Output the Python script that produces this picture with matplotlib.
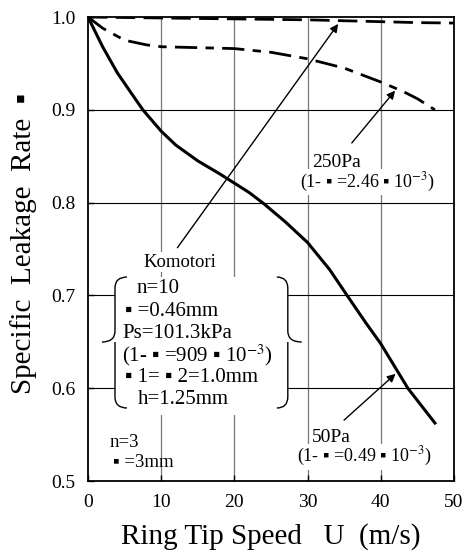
import matplotlib
matplotlib.use("Agg")
import matplotlib.pyplot as plt
from matplotlib.path import Path
from matplotlib.patches import PathPatch, Rectangle

plt.rcParams['font.family'] = ['Liberation Serif', 'DejaVu Sans']
plt.rcParams['mathtext.fontset'] = 'stix'

# readings
u_komo = [0, 5, 10, 15, 20, 25, 30, 35, 40, 45, 50]
r_komo = [1.0, 0.9995, 0.999, 0.9985, 0.998, 0.9975, 0.997, 0.996, 0.995, 0.994, 0.9935]

u_250 = [0, 2, 5, 8, 10, 15, 20, 25, 30, 35, 40, 43, 45, 47.4]
r_250 = [1.0, 0.988, 0.975, 0.970, 0.968, 0.967, 0.966, 0.962, 0.955, 0.945, 0.930, 0.920, 0.912, 0.900]

u_50 = [0, 2, 4, 6, 7.5, 10, 12, 15, 18, 20, 22, 24, 27, 30, 33, 35.4, 38, 40, 43.7, 47.4]
r_50 = [1.0, 0.968, 0.940, 0.917, 0.900, 0.877, 0.862, 0.845, 0.831, 0.821, 0.811, 0.799,
        0.779, 0.757, 0.728, 0.700, 0.670, 0.648, 0.600, 0.5625]

xticks = [0, 10, 20, 30, 40, 50]
yticks = [0.5, 0.6, 0.7, 0.8, 0.9, 1.0]
ytick_labels = ["0.5", "0.6", "0.7", "0.8", "0.9", "1.0"]

fig = plt.figure(figsize=(4.68, 5.55), dpi=100)
ax = fig.add_axes([0.188, 0.1333, 0.782, 0.836])
ax.set_xlim(0, 50)
ax.set_ylim(0.5, 1.0)

# grid
for x in xticks[1:-1]:
    ax.axvline(x, color='#777777', lw=0.9, zorder=1)
for y in yticks[1:-1]:
    ax.axhline(y, color='black', lw=0.8, zorder=1)

ax.plot(u_komo, r_komo, color='black', lw=2.0, dashes=(7, 3), zorder=5)
ax.plot(u_250, r_250, color='black', lw=2.0, dashes=(8, 3, 3, 3), zorder=5)
ax.plot(u_50, r_50, color='black', lw=2.2, zorder=5)

ax.set_xticks(xticks)
ax.set_yticks(yticks)
ax.set_yticklabels(ytick_labels)
ax.tick_params(direction='in', length=4, width=1, labelsize=14, pad=9)
for s in ax.spines.values():
    s.set_linewidth(1.3)

ax.set_xlabel("Ring Tip Speed   U  (m/s)", fontsize=21, labelpad=9)
ax.set_ylabel("Specific  Leakage  Rate  \u25aa", fontsize=21)
ax.yaxis.set_label_coords(-0.14, 0.513)

fs = 13
fs_box = 15
white = dict(facecolor='white', edgecolor='none', pad=1)

# brace box
ax.add_patch(Rectangle((3.69, 0.571), 27.3 - 3.69, 0.7198 - 0.571,
                       facecolor='white', edgecolor='none', zorder=2))


def brace(xs, xt, xh, y0, y1, ym):
    r = 0.012
    verts = [(xh, y0), (xs, y0), (xs, y0 - r), (xs, ym + r), (xs, ym), (xt, ym),
             (xs, ym), (xs, ym - r), (xs, y1 + r), (xs, y1), (xh, y1)]
    codes = [Path.MOVETO, Path.CURVE3, Path.CURVE3, Path.LINETO, Path.CURVE3, Path.CURVE3,
             Path.MOVETO, Path.CURVE3, Path.LINETO, Path.CURVE3, Path.CURVE3]
    ax.add_patch(PathPatch(Path(verts, codes), facecolor='none', edgecolor='black', lw=1.0, zorder=3))


brace(3.69, 1.91, 5.33, 0.7198, 0.5787, 0.6498)
brace(27.3, 29.2, 25.8, 0.7198, 0.5787, 0.6498)

ax.text(12.5, 0.736, "Komotori", fontsize=fs + 0.5, ha='center', va='center', bbox=white, zorder=3)
box_lines = [
    (6.7, 0.708, "n=10"),
    (5.05, 0.683, "\u25aa =0.46mm"),
    (4.65, 0.6595, "Ps=101.3kPa"),
    (4.65, 0.636, "(1- \u25aa =909 \u25aa 10$^{-3}$)"),
    (5.05, 0.612, "\u25aa 1= \u25aa 2=1.0mm"),
    (6.8, 0.588, "h=1.25mm"),
]
for x, y, t in box_lines:
    ax.text(x, y, t, fontsize=fs_box, ha='left', va='center', zorder=3)

ax.text(3.0, 0.541, "n=3", fontsize=fs + 0.5, ha='left', va='center', zorder=3)
ax.text(3.4, 0.520, "\u25aa =3mm", fontsize=fs + 0.5, ha='left', va='center', zorder=3)

ax.text(30.6, 0.843, "250Pa", fontsize=fs + 1, ha='left', va='center', bbox=white, zorder=3)
ax.text(29.0, 0.822, "(1- \u25aa =2.46 \u25aa 10$^{-3}$)", fontsize=fs, ha='left', va='center',
        bbox=white, zorder=3)
ax.text(30.6, 0.5474, "50Pa", fontsize=fs + 1, ha='left', va='center', bbox=white, zorder=3)
ax.text(28.6, 0.526, "(1- \u25aa =0.49 \u25aa 10$^{-3}$)", fontsize=fs, ha='left', va='center',
        bbox=white, zorder=3)

arrow = dict(arrowstyle='-|>', color='black', lw=1.0, mutation_scale=12)
ax.annotate("", xy=(34.4, 0.995), xytext=(12.0, 0.749), arrowprops=arrow, zorder=4)
ax.annotate("", xy=(42.2, 0.923), xytext=(35.8, 0.862), arrowprops=arrow, zorder=4)
ax.annotate("", xy=(42.3, 0.6175), xytext=(34.7, 0.5636), arrowprops=arrow, zorder=4)

fig.savefig("out.png", dpi=100)
